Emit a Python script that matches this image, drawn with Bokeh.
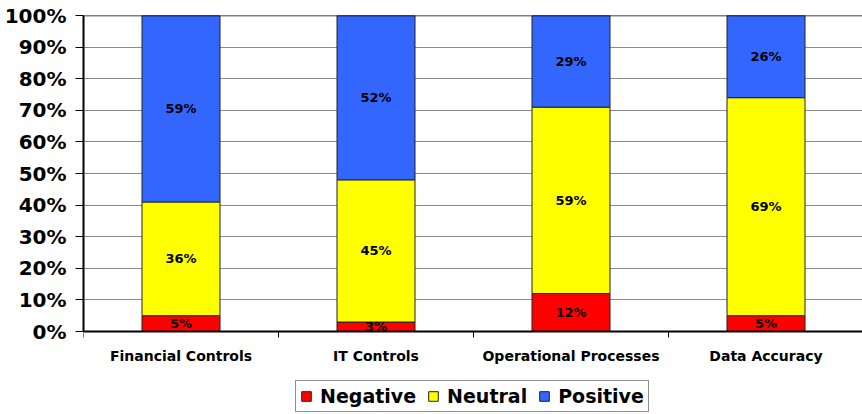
from bokeh.plotting import figure
from bokeh.models import (ColumnDataSource, FixedTicker, NumeralTickFormatter, Legend,
                          LegendItem, Range1d, Span, LabelSet)
from bokeh.core.properties import value
from bokeh.embed import file_html
from bokeh.resources import INLINE

categories = ["Financial Controls", "IT Controls", "Operational Processes", "Data Accuracy"]
negative = [0.05, 0.03, 0.12, 0.05]
neutral = [0.36, 0.45, 0.59, 0.69]
positive = [0.59, 0.52, 0.29, 0.26]
series = ["Negative", "Neutral", "Positive"]
colors = ["#FF0000", "#FFFF00", "#3366FF"]
y_ticks = [0, 0.1, 0.2, 0.3, 0.4, 0.5, 0.6, 0.7, 0.8, 0.9, 1.0]

FONT = "DejaVu Sans"

n = len(categories)
xc = [i + 0.5 for i in range(n)]
b0 = [0.0] * n
t0 = negative
b1 = negative
t1 = [a + b for a, b in zip(negative, neutral)]
b2 = t1
t2 = [a + b for a, b in zip(t1, positive)]

src = ColumnDataSource(dict(
    x=xc, b0=b0, t0=t0, b1=b1, t1=t1, b2=b2, t2=t2,
    m0=[(a + b) / 2 for a, b in zip(b0, t0)],
    m1=[(a + b) / 2 for a, b in zip(b1, t1)],
    m2=[(a + b) / 2 for a, b in zip(b2, t2)],
    l0=[f"{round(v*100)}%" for v in negative],
    l1=[f"{round(v*100)}%" for v in neutral],
    l2=[f"{round(v*100)}%" for v in positive],
))

W, H = 862, 414
LEFT, TOP, ZERO_Y = 83, 15, 331
unit = ZERO_Y - TOP
p = figure(width=W, height=H, output_backend="svg", toolbar_location=None,
           x_range=Range1d(0, (W - LEFT) / 195), y_range=Range1d(-(H - ZERO_Y) / unit, 1),
           min_border_left=LEFT, min_border_right=0, min_border_top=TOP, min_border_bottom=0)
p.outline_line_color = None
p.background_fill_color = "white"
p.border_fill_color = "white"

renderers = []
for k in range(3):
    r = p.vbar(x="x", bottom=f"b{k}", top=f"t{k}", width=0.4, source=src,
               fill_color=colors[k], line_color="#222222", line_width=1)
    renderers.append(r)
    p.add_layout(LabelSet(x="x", y=f"m{k}", text=f"l{k}", source=src,
                          text_align="center", text_baseline="middle",
                          text_font=value(FONT), text_font_style="bold",
                          text_font_size="13px", text_color="black"))

# grid
p.xgrid.visible = False
p.ygrid.ticker = FixedTicker(ticks=y_ticks)
p.ygrid.grid_line_color = "#8c8c8c"
p.ygrid.grid_line_width = 1
p.add_layout(Span(location=p.y_range.end, dimension="width", line_color="black", line_width=1.5))

# y axis
ya = p.yaxis[0]
ya.ticker = FixedTicker(ticks=y_ticks)
ya.bounds = (y_ticks[0], y_ticks[-1])
ya.formatter = NumeralTickFormatter(format="0%")
ya.axis_line_color = "black"
ya.axis_line_width = 2
ya.major_tick_in = 0
ya.major_tick_out = 8
ya.minor_tick_line_color = None
ya.major_label_standoff = 9
ya.major_label_text_font = FONT
ya.major_label_text_font_style = "bold"
ya.major_label_text_font_size = "20px"
ya.major_label_text_color = "black"

# x axis (drawn at y = 0 inside the frame)
xa = p.xaxis[0]
xa.fixed_location = y_ticks[0]
xa.ticker = FixedTicker(ticks=xc, minor_ticks=list(range(n + 1)))
xa.major_label_overrides = {x: c for x, c in zip(xc, categories)}
xa.axis_line_color = "black"
xa.axis_line_width = 2
xa.major_tick_in = 0
xa.major_tick_out = 0
xa.minor_tick_in = 0
xa.minor_tick_out = 6
xa.minor_tick_line_color = "black"
xa.major_label_standoff = 10
xa.major_label_text_font = FONT
xa.major_label_text_font_style = "bold"
xa.major_label_text_font_size = "14px"
xa.major_label_text_color = "black"

legend = Legend(items=[LegendItem(label=s, renderers=[r]) for s, r in zip(series, renderers)],
                orientation="horizontal", location=(212, 2))
legend.label_text_font = FONT
legend.label_text_font_style = "bold"
legend.label_text_font_size = "19px"
legend.label_text_color = "black"
legend.border_line_color = "#222222"
legend.border_line_width = 1
legend.glyph_width = 12
legend.glyph_height = 12
legend.spacing = 11
legend.padding = 4
legend.margin = 0
legend.label_standoff = 8
legend.label_height = 18
p.add_layout(legend, "center")

open("out.html", "w").write(file_html(p, INLINE))
